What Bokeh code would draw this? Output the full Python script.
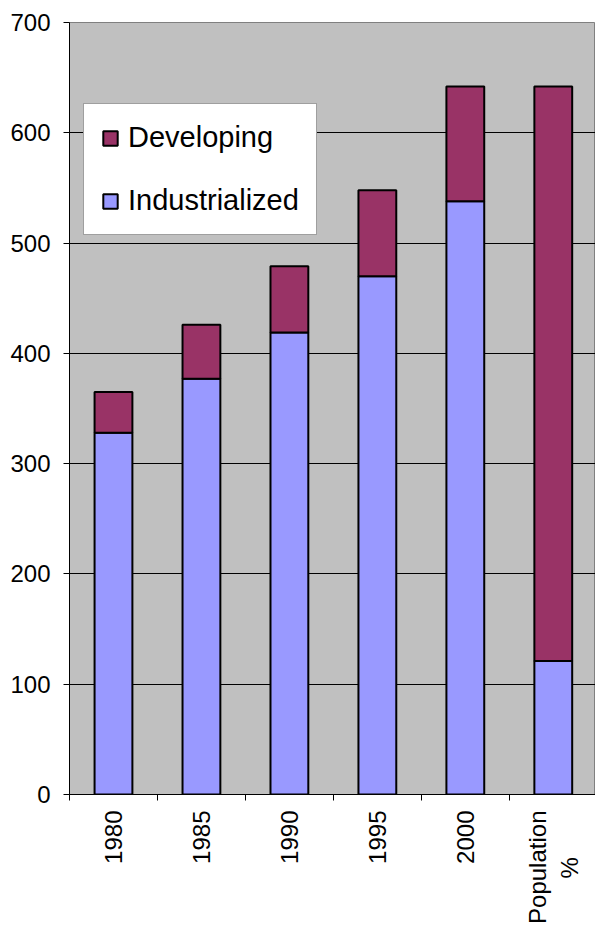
import numpy as np
from bokeh.plotting import figure
from bokeh.models import Range1d, FixedTicker, Legend, LegendItem, ColumnDataSource
from bokeh.embed import file_html
from bokeh.resources import INLINE

categories = ["1980", "1985", "1990", "1995", "2000", "Population\n%" + "\u00a0" * 7]
industrialized = [328, 377, 419, 470, 538, 121]
developing = [37, 49, 60, 78, 104, 521]
y_ticks = [0, 100, 200, 300, 400, 500, 600, 700]

FONT = "Liberation Sans"

x = [i + 0.5 for i in range(len(categories))]
source = ColumnDataSource(dict(x=x, Industrialized=industrialized, Developing=developing))

p = figure(width=595, height=926,
           x_range=Range1d(0, 5.98), y_range=Range1d(0, 700),
           output_backend="svg", toolbar_location=None,
           min_border_left=69, min_border_right=0,
           min_border_top=22, min_border_bottom=130)

p.background_fill_color = "#C0C0C0"
p.border_fill_color = "white"
p.outline_line_color = "#808080"
p.outline_line_width = 1

rs = p.vbar_stack(["Industrialized", "Developing"], x="x", width=0.43,
                  color=["#9999FF", "#993366"], line_color="black", line_width=2,
                  source=source)

# axes
p.xaxis.ticker = FixedTicker(ticks=x, minor_ticks=list(range(len(categories) + 1)))
p.xaxis.major_label_overrides = {xi: c for xi, c in zip(x, categories)}
p.xaxis.major_label_orientation = np.pi / 2
p.xaxis.major_tick_line_color = None
p.xaxis.minor_tick_in = 0
p.xaxis.minor_tick_out = 6
p.xaxis.minor_tick_line_color = "black"
p.xaxis.major_label_standoff = 10
p.xaxis.major_label_text_font = FONT
p.xaxis.major_label_text_font_size = "24px"
p.xaxis.major_label_text_color = "black"
p.xaxis.axis_line_color = "black"

p.yaxis.ticker = FixedTicker(ticks=y_ticks)
p.yaxis.major_tick_in = 0
p.yaxis.major_tick_out = 6
p.yaxis.major_tick_line_color = "black"
p.yaxis.minor_tick_line_color = None
p.yaxis.major_label_standoff = 13
p.yaxis.major_label_text_font = FONT
p.yaxis.major_label_text_font_size = "24px"
p.yaxis.major_label_text_color = "black"
p.yaxis.axis_line_color = "black"

p.xgrid.visible = False
p.ygrid.ticker = FixedTicker(ticks=y_ticks)
p.ygrid.grid_line_color = "black"
p.ygrid.grid_line_width = 1

legend = Legend(items=[LegendItem(label="Developing", renderers=[rs[1]]),
                       LegendItem(label="Industrialized", renderers=[rs[0]])],
                location=(14, 559), margin=0, padding=17, spacing=30,
                glyph_width=18, glyph_height=18, label_height=32,
                label_standoff=9, label_text_font=FONT,
                label_text_font_size="29px", label_text_color="black",
                border_line_color="#404040", border_line_width=1.5,
                background_fill_color="white", background_fill_alpha=1.0)
p.add_layout(legend)

open("out.html", "w").write(file_html(p, INLINE))
